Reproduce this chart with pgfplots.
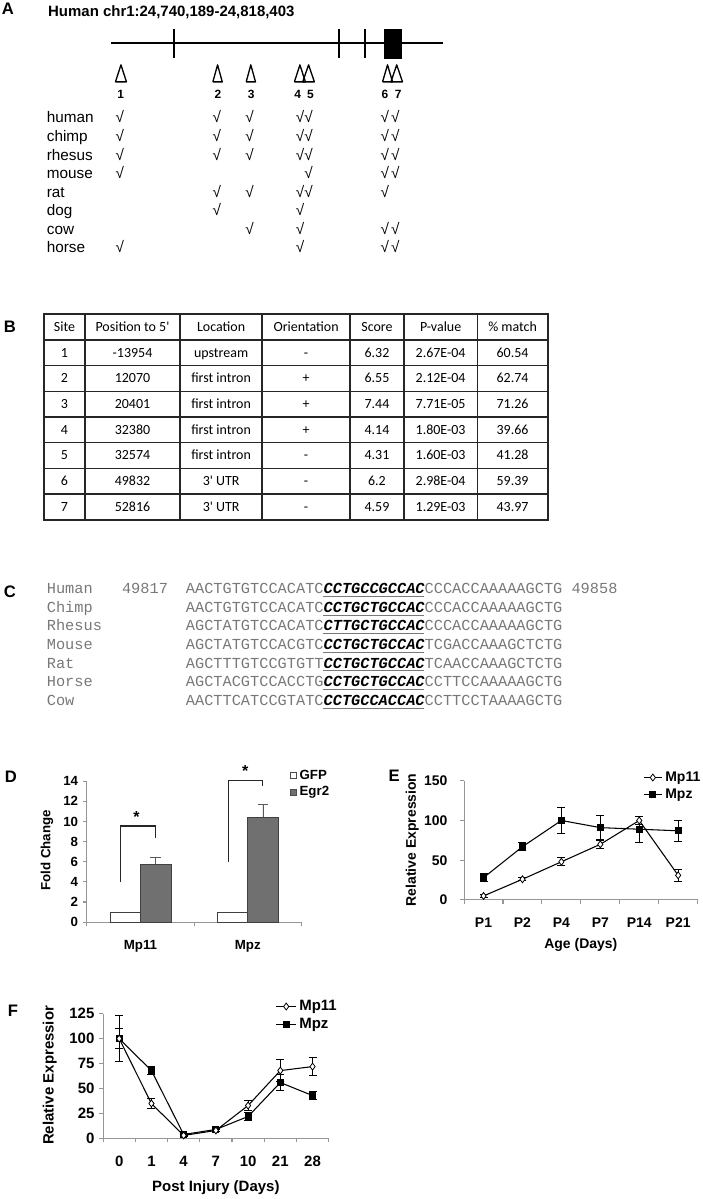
\documentclass[border=0pt]{standalone}
\usepackage{pgfplots}
\pgfplotsset{compat=1.18}
\usepackage{fontspec}
\setmainfont{Liberation Sans}
\newfontfamily\calfont{Carlito}
\newfontfamily\seqfont{Liberation Mono}
\definecolor{seqgray}{RGB}{120,120,120}
\definecolor{axgray}{RGB}{150,150,150}
\definecolor{bargray}{RGB}{112,112,112}
\newcommand{\fs}[1]{\fontsize{#1}{#1}\selectfont}
\pgfplotsset{
  panel/.style={
    scale only axis, axis x line*=bottom, axis y line*=left,
    axis line style={axgray, line width=0.8pt, -},
    tick style={axgray, line width=0.8pt}, tick align=outside,
    major tick length=3pt, minor tick length=3pt,
    major x tick style={draw=none},
    /pgf/number format/assume math mode=true,
    legend cell align=left, clip=false,
  },
}
\tikzset{
  tb/.style={anchor=base, font=\calfont\fs{10.5pt}, inner sep=0pt},
  sq/.style={anchor=base west, font=\seqfont\fs{11.5pt}, text=seqgray, inner sep=0pt},
  ck/.style={anchor=base, font=\fs{11.5pt}, inner sep=0pt},
  lt/.style={anchor=center, font=\bfseries\fs{12.5pt}, inner sep=0pt},
}
\newcommand{\trow}[8]{%
  \node[tb] at (64.65,#1) {#2};
  \node[tb] at (132.75,#1) {#3};
  \node[tb] at (221.55,#1) {#4};
  \node[tb] at (306.7,#1) {#5};
  \node[tb] at (377.7,#1) {#6};
  \node[tb] at (441.5,#1) {#7};
  \node[tb] at (513.6,#1) {#8};}
\newcommand{\crow}[5]{%
  \node[sq] at (46.7,#1+4.4) {#2};
  \node[sq] at (186,#1+4.4) {#3{\bfseries\itshape\color{black}#4}#5};
  \draw[seqgray, line width=0.7pt] (324,#1+7.2) -- (425.2,#1+7.2);}
\begin{document}
\begin{tikzpicture}
\begin{scope}[x=0.75pt,y=-0.75pt]
\path[use as bounding box] (0,0) rectangle (704,1199);
\coordinate (Aorig) at (0,0);
\coordinate (Dorig) at (87,924);
\coordinate (Eorig) at (465,901.7);
\coordinate (Forig) at (103.3,1140.7);
% panel letters
\node[lt] at (8,8.3) {A};
\node[lt] at (10,327.8) {B};
\node[lt] at (10,593) {C};
\node[lt] at (11,778) {D};
\node[lt] at (395,777) {E};
\node[lt] at (13,1013) {F};
% panel A texts
\node[anchor=base west, inner sep=0pt, font=\bfseries\fs{11.25pt}] at (48,16.1) {Human chr1:24,740,189-24,818,403};
\foreach \xx/\n in {121/1,218.3/2,251.7/3,298.3/4,311/5,385.7/6,399/7}
  \node[anchor=center, inner sep=0pt, font=\bfseries\fs{9pt}] at (\xx,95) {\n};
\foreach \yy/\nm in {117.3/human,136.7/chimp,155/rhesus,173.3/mouse,192/rat,210.5/dog,229/cow,248/horse}
  \node[anchor=base west, inner sep=0pt, font=\fs{11.5pt}] at (46.7,\yy+5.5) {\nm};
\foreach \yy/\cols in {117.3/{120,217.3,250,300.7,309.3,385.7,396},
                       136.7/{120,217.3,250,300.7,309.3,385.7,396},
                       155/{120,217.3,250,300.7,309.3,385.7,396},
                       173.3/{120,309.3,385.7,396},
                       192/{217.3,250,300.7,309.3,385.7},
                       210.5/{217.3,300.7},
                       229/{250,300.7,385.7,396},
                       248/{120,300.7,385.7,396}}
  {\foreach \xx in \cols {\node[ck] at (\xx,\yy+5.5) {√};}}
% panel B table
\foreach \yy in {340.7,366.4,392.1,417.8,443.5,469.2,494.9}
  \draw[black!85, line width=1.1pt] (44.2,\yy) -- (548.9,\yy);
\foreach \xx in {85.1,180.4,262.7,350.7,404.7,478.3}
  \draw[black!85, line width=1.1pt] (\xx,315) -- (\xx,520.6);
\draw[black!85, line width=1.5pt] (44.2,315) rectangle (548.9,520.6);
\trow{332.35}{Site}{Position to 5'}{Location}{Orientation}{Score}{P-value}{\% match}
\trow{358.05}{1}{-13954}{upstream}{-}{6.32}{2.67E-04}{60.54}
\trow{383.75}{2}{12070}{first intron}{+}{6.55}{2.12E-04}{62.74}
\trow{409.45}{3}{20401}{first intron}{+}{7.44}{7.71E-05}{71.26}
\trow{435.15}{4}{32380}{first intron}{+}{4.14}{1.80E-03}{39.66}
\trow{460.85}{5}{32574}{first intron}{-}{4.31}{1.60E-03}{41.28}
\trow{486.55}{6}{49832}{3' UTR}{-}{6.2}{2.98E-04}{59.39}
\trow{512.25}{7}{52816}{3' UTR}{-}{4.59}{1.29E-03}{43.97}
% panel C
\crow{590}{Human}{AACTGTGTCCACATC}{CCTGCCGCCAC}{CCCACCAAAAAGCTG}
\node[sq] at (122,594.4) {49817};
\node[sq] at (572.4,594.4) {49858};
\crow{609}{Chimp}{AACTGTGTCCACATC}{CCTGCTGCCAC}{CCCACCAAAAAGCTG}
\crow{627.7}{Rhesus}{AGCTATGTCCACATC}{CTTGCTGCCAC}{CCCACCAAAAAGCTG}
\crow{646.3}{Mouse}{AGCTATGTCCACGTC}{CCTGCTGCCAC}{TCGACCAAAGCTCTG}
\crow{665}{Rat}{AGCTTTGTCCGTGTT}{CCTGCTGCCAC}{TCAACCAAAGCTCTG}
\crow{683.7}{Horse}{AGCTACGTCCACCTG}{CCTGCTGCCAC}{CCTTCCAAAAAGCTG}
\crow{702.3}{Cow}{AACTTCATCCGTATC}{CCTGCCACCAC}{CCTTCCTAAAAGCTG}
\end{scope}

% ---------- Panel A gene diagram ----------
\begin{axis}[at={(Aorig)}, anchor=north west, scale only axis, width=528pt, height=225pt,
  xmin=0, xmax=704, ymin=0, ymax=300, y dir=reverse, hide axis, clip=false]
\addplot[black, line width=1.5pt] coordinates {(111.7,43.3) (444.3,43.3)};
\addplot[black, line width=1.5pt] coordinates {(174,29.3) (174,58.3)};
\addplot[black, line width=1.5pt] coordinates {(339.3,29.3) (339.3,58.3)};
\addplot[black, line width=1.5pt] coordinates {(366,29.3) (366,58.3)};
\addplot[black, fill=black, line width=0.5pt] coordinates {(385,29.3) (401.7,29.3) (401.7,58.3) (385,58.3) (385,29.3)};
\addplot[black, line width=1pt, line join=round] coordinates {(115.7,82) (121.2,65) (126.7,82) (115.7,82)};
\addplot[black, line width=1pt, line join=round] coordinates {(213.3,82) (218,65) (222.7,82) (213.3,82)};
\addplot[black, line width=1pt, line join=round] coordinates {(246.7,82) (251.3,65) (256,82) (246.7,82)};
\addplot[black, line width=1pt, line join=round] coordinates {(295,82) (300.5,65) (306,82) (295,82)};
\addplot[black, line width=1pt, line join=round] coordinates {(303.3,82) (309.2,65) (315,82) (303.3,82)};
\addplot[black, line width=1pt, line join=round] coordinates {(383.3,82) (388.3,65) (393.3,82) (383.3,82)};
\addplot[black, line width=1pt, line join=round] coordinates {(391.7,82) (397.5,65) (403.3,82) (391.7,82)};
\end{axis}

% ---------- Panel D ----------
\begin{axis}[panel, at={(Dorig)}, anchor=south west, width=161.25pt, height=106pt,
  xmin=0.5, xmax=2.5, ymin=0, ymax=14, ytick={0,2,...,14},
  xtick={1,2}, xticklabels={Mp11,Mpz}, minor xtick={0.5,1.5,2.5},
  tick label style={font=\bfseries\fs{10pt}}, xticklabel shift=7pt,
  ylabel={Fold Change},
  ylabel style={font=\bfseries\fs{10pt}, at={(axis description cs:-0.186,0.51)}, anchor=center},
  ybar, bar width=0.284,
  legend style={at={(axis description cs:0.945,1.1)}, anchor=north west, draw=none, fill=none,
    inner sep=0pt, row sep=0pt, font=\bfseries\fs{10pt}},
]
\addplot[fill=white, draw=black!75, line width=0.6pt, bar shift=-0.142, forget plot]
  coordinates {(1,1) (2,1)};
\addplot[fill=bargray, draw=black!75, line width=0.6pt, bar shift=0.142, forget plot,
  error bars/.cd, y dir=plus, y explicit,
  error bar style={black!65, line width=0.7pt},
  error mark options={rotate=90, black!65, mark size=4pt, line width=0.7pt}]
  coordinates {(1,5.75) +- (0,0.7) (2,10.4) +- (0,1.3)};
\draw[black!85, line width=1pt] (axis cs:0.813,4.0) -- (axis cs:0.813,9.53) -- (axis cs:1.142,9.53) -- (axis cs:1.142,8.4);
\draw[black!85, line width=1pt] (axis cs:1.821,6.0) -- (axis cs:1.821,14.09) -- (axis cs:2.14,14.09) -- (axis cs:2.14,13.5);
\node[font=\bfseries\fs{12pt}, inner sep=0pt] at (axis cs:0.962,10.4) {*};
\node[font=\bfseries\fs{12pt}, inner sep=0pt] at (axis cs:1.976,15.0) {*};
\addlegendimage{legend image code/.code={\draw[fill=white, draw=black!70, line width=0.5pt] (0pt,-2.4pt) rectangle (4.8pt,2.4pt);}}
\addlegendentry{GFP}
\addlegendimage{legend image code/.code={\draw[fill=bargray, draw=black!70, line width=0.5pt] (0pt,-2.4pt) rectangle (4.8pt,2.4pt);}}
\addlegendentry{Egr2}
\end{axis}

% ---------- Panel E ----------
\begin{axis}[panel, at={(Eorig)}, anchor=south west, width=175.5pt, height=89.55pt,
  xmin=0.5, xmax=6.5, ymin=0, ymax=150, ytick={0,50,100,150},
  xtick={1,...,6}, xticklabels={P1,P2,P4,P7,P14,P21}, minor xtick={0.5,1.5,...,6.5},
  tick label style={font=\bfseries\fs{10.5pt}}, xticklabel shift=7pt, yticklabel shift=6pt,
  xlabel={Age (Days)}, ylabel={Relative Expression},
  label style={font=\bfseries\fs{10.5pt}},
  xlabel style={at={(axis description cs:0.5,-0.377)}, anchor=center},
  ylabel style={at={(axis description cs:-0.222,0.504)}, anchor=center},
  legend image code/.code={\draw[mark repeat=2,mark phase=2,#1] plot coordinates {(0pt,0pt)(7pt,0pt)(14pt,0pt)};},
  legend style={at={(axis description cs:0.765,1.1)}, anchor=north west, draw=none, fill=none,
    inner sep=0pt, row sep=0pt, font=\bfseries\fs{10.5pt}},
]
\addplot[black, line width=0.8pt, mark=square*, mark size=2.3pt, forget plot,
  error bars/.cd, y dir=both, y explicit,
  error bar style={black, line width=0.6pt},
  error mark options={rotate=90, black, mark size=3pt, line width=0.6pt}]
  coordinates {(1,28) +- (0,5) (2,67) +- (0,5) (3,100) +- (0,16) (4,91) +- (0,15) (5,89) +- (0,16.5) (6,87) +- (0,13)};
\addplot[black, line width=0.8pt, mark=diamond*, mark size=2.6pt, mark options={fill=white, line width=0.6pt}, forget plot,
  error bars/.cd, y dir=both, y explicit,
  error bar style={black, line width=0.6pt},
  error mark options={rotate=90, black, mark size=3pt, line width=0.6pt}]
  coordinates {(1,5) +- (0,1.5) (2,26) +- (0,2) (3,48) +- (0,5) (4,70) +- (0,5) (5,100) +- (0,5) (6,31) +- (0,8)};
\addlegendimage{black, line width=0.8pt, mark=diamond*, mark size=2.6pt, mark options={fill=white, line width=0.6pt}}
\addlegendentry{Mp11}
\addlegendimage{black, line width=0.8pt, mark=square*, mark size=2.3pt}
\addlegendentry{Mpz}
\end{axis}

% ---------- Panel F ----------
\begin{axis}[panel, at={(Forig)}, anchor=south west, width=169.5pt, height=93.75pt,
  xmin=0.5, xmax=7.5, ymin=0, ymax=125, ytick={0,25,...,125},
  xtick={1,...,7}, xticklabels={0,1,4,7,10,21,28}, minor xtick={0.5,1.5,...,7.5},
  tick label style={font=\bfseries\fs{11.25pt}}, xticklabel shift=7pt,
  xlabel={Post Injury (Days)}, ylabel={Relative Expressior},
  label style={font=\bfseries\fs{11.25pt}},
  xlabel style={at={(axis description cs:0.5,-0.394)}, anchor=center},
  ylabel style={at={(axis description cs:-0.236,0.506)}, anchor=center},
  legend image code/.code={\draw[mark repeat=2,mark phase=2,#1] plot coordinates {(0pt,0pt)(7.5pt,0pt)(15pt,0pt)};},
  legend style={at={(axis description cs:0.764,1.13)}, anchor=north west, draw=none, fill=none,
    inner sep=0pt, row sep=0pt, font=\bfseries\fs{11.25pt}},
]
\addplot[black, line width=0.8pt, mark=square*, mark size=2.3pt, forget plot,
  error bars/.cd, y dir=both, y explicit,
  error bar style={black, line width=0.6pt},
  error mark options={rotate=90, black, mark size=3pt, line width=0.6pt}]
  coordinates {(1,100) +- (0,10) (2,68) +- (0,4) (3,4) +- (0,1) (4,9) +- (0,1.5) (5,22) +- (0,4) (6,56) +- (0,8) (7,43) +- (0,4)};
\addplot[black, line width=0.8pt, mark=diamond*, mark size=2.6pt, mark options={fill=white, line width=0.6pt}, forget plot,
  error bars/.cd, y dir=both, y explicit,
  error bar style={black, line width=0.6pt},
  error mark options={rotate=90, black, mark size=3pt, line width=0.6pt}]
  coordinates {(1,100) +- (0,23) (2,35) +- (0,5) (3,3) +- (0,1) (4,8) +- (0,1) (5,33) +- (0,5) (6,68) +- (0,11) (7,72) +- (0,9)};
\addlegendimage{black, line width=0.8pt, mark=diamond*, mark size=2.6pt, mark options={fill=white, line width=0.6pt}}
\addlegendentry{Mp11}
\addlegendimage{black, line width=0.8pt, mark=square*, mark size=2.3pt}
\addlegendentry{Mpz}
\end{axis}
\end{tikzpicture}
\end{document}
